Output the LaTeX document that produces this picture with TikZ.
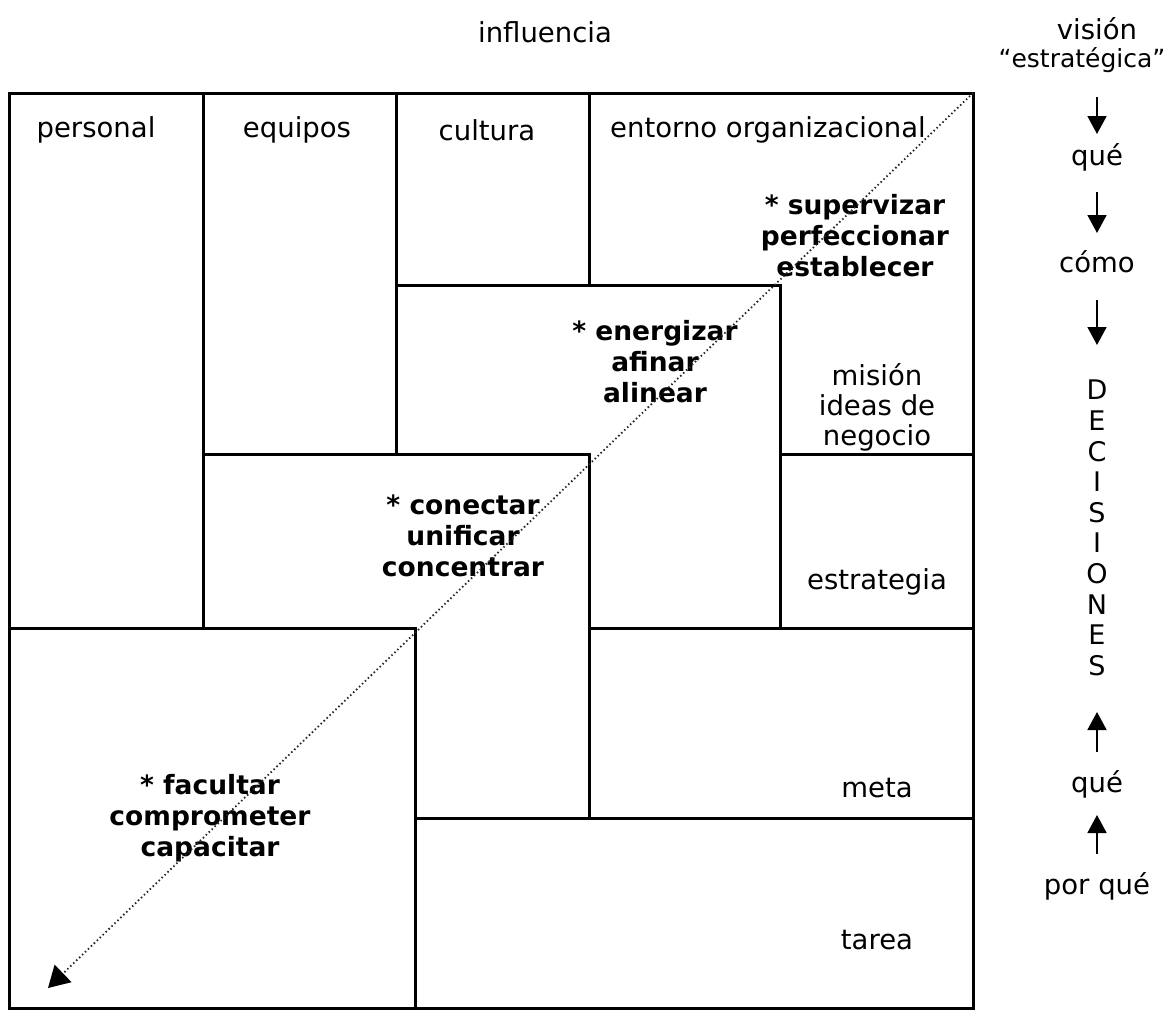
\documentclass[tikz,border=0pt]{standalone}
\usepackage{fontspec}
\setmainfont{DejaVu Sans}
\usetikzlibrary{arrows.meta}
\begin{document}
\begin{tikzpicture}[x=1pt,y=-1pt,
  frame/.style={line width=3pt, line cap=rect, line join=miter},
  lbl/.style={font=\fontsize{27.5}{30}\selectfont, inner sep=0pt, align=center},
  act/.style={font=\fontsize{26.5}{31}\selectfont\bfseries, inner sep=0pt, align=center},
  letter/.style={font=\fontsize{27}{30}\selectfont, inner sep=0pt},
  flow/.style={line width=1.8pt, -{Triangle[length=18pt,width=19pt]}},
  trace/.style={line width=1.8pt, black!85, dash pattern=on 1.5pt off 2.6pt,
    -{Triangle[length=21pt,width=24pt,color=black]}}
]
\useasboundingbox (0,0) rectangle (1164,1012);

% outer frame and the staircase of fields
\draw[frame] (9,93) rectangle (973,1008);
\draw[frame] (203,93) -- (203,628);
\draw[frame] (396,93) -- (396,454);
\draw[frame] (589,93) -- (589,285);
\draw[frame] (396,285) -- (780,285) -- (780,628);
\draw[frame] (780,454) -- (973,454);
\draw[frame] (203,454) -- (589,454) -- (589,818);
\draw[frame] (589,628) -- (973,628);
\draw[frame] (9,628) -- (415,628) -- (415,1008);
\draw[frame] (415,818) -- (973,818);

% headings
\node[lbl] (infl) at (545,32) {influencia};
\node[lbl] (vis) at (1097,29) {visión};
\node[lbl, font=\fontsize{25}{30}\selectfont] (estr) at (1082,60) {“estratégica”};

% field names
\node[lbl] (pers) at (96,130) {personal};
\node[lbl] (equi) at (297,130) {equipos};
\node[lbl] (cult) at (487,130) {cultura};
\node[lbl] (ento) at (768,130) {entorno organizacional};
\node[lbl] (mis) at (877,407) {misión\\ideas de\\negocio};
\node[lbl] (est) at (877,582) {estrategia};
\node[lbl] (meta) at (877,788) {meta};
\node[lbl] (tar) at (877,940) {tarea};

% actions along the diagonal
\node[act] (sup) at (855,236) {* supervizar\\perfeccionar\\establecer};
\node[act] (ene) at (655,362) {* energizar\\afinar\\alinear};
\node[act] (con) at (463,536) {* conectar\\unificar\\concentrar};
\node[act] (fac) at (210,818) {* facultar\\comprometer\\capacitar};

% diagonal trace
\coordinate (tr) at (973,93);
\coordinate (bl) at (48,988);
\draw[trace] (tr) -- (bl);

% right-hand column
\node[lbl] (q1) at (1097,157) {qué};
\node[lbl] (como) at (1097,262) {cómo};
\foreach \c [count=\i from 0] in {D,E,C,I,S,I,O,N,E,S}
  \node[letter] (dec\i) at (1097,{390+30.6*\i}) {\c};
\node[lbl] (q2) at (1097,784) {qué};
\node[lbl] (pq) at (1097,886) {por qué};

\coordinate (a1s) at (1097,97);
\coordinate (a1e) at (1097,134);
\coordinate (a2s) at (1097,192);
\coordinate (a2e) at (1097,233);
\coordinate (a3s) at (1097,300);
\coordinate (a3e) at (1097,345);
\coordinate (a4s) at (1097,752);
\coordinate (a4e) at (1097,712);
\coordinate (a5s) at (1097,854);
\coordinate (a5e) at (1097,815);
\draw[flow] (a1s) -- (a1e);
\draw[flow] (a2s) -- (a2e);
\draw[flow] (a3s) -- (a3e);
\draw[flow] (a4s) -- (a4e);
\draw[flow] (a5s) -- (a5e);
\end{tikzpicture}
\end{document}
